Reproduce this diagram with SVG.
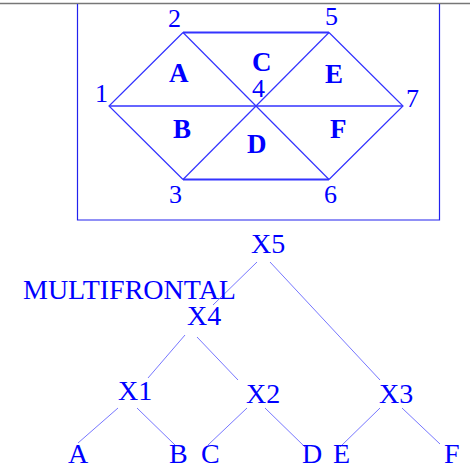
<svg xmlns="http://www.w3.org/2000/svg" width="470" height="469" viewBox="0 0 470 469">
<style>
text{font-family:"Liberation Serif","Times New Roman",serif;fill:#0000ff}
.d{font-size:26px}
.l{font-size:27px;font-weight:bold}
.t{font-size:28px}
.mesh{stroke:#3333ff;stroke-width:1.2;fill:none}
.edge{stroke:#7777ff;stroke-width:1;fill:none}
</style>
<rect width="470" height="469" fill="#fff"/>
<line x1="0" y1="3.5" x2="470" y2="3.5" stroke="#777" stroke-width="1.5"/>
<g id="box"><polyline points="77.5,4 77.5,220 439.5,220 439.5,4" fill="none" stroke="#2222ee" stroke-width="1.2"/></g>
<g id="mesh">
<line class="mesh" x1="183" y1="32.5" x2="329" y2="32.5" style="stroke-width:2"/>
<line class="mesh" x1="183" y1="179.5" x2="329" y2="179.5" style="stroke-width:2"/>
<line class="mesh" x1="109" y1="106" x2="403" y2="106" style="stroke-width:1.6"/>
<polyline class="mesh" points="183,32.5 109,106 183,179.5"/>
<polyline class="mesh" points="329,32.5 403,106 329,179.5"/>
<line class="mesh" x1="183" y1="32.5" x2="329" y2="179.5"/>
<line class="mesh" x1="329" y1="32.5" x2="183" y2="179.5"/>
</g>
<g id="vertex-labels">
<text class="d" x="168" y="27">2</text>
<text class="d" x="325" y="25">5</text>
<text class="d" x="95" y="102">1</text>
<text class="d" x="252" y="97">4</text>
<text class="d" x="406" y="107">7</text>
<text class="d" x="169" y="203">3</text>
<text class="d" x="324" y="203">6</text>
</g>
<g id="element-labels">
<text class="l" x="169" y="82">A</text>
<text class="l" x="252" y="71">C</text>
<text class="l" x="325" y="83">E</text>
<text class="l" x="173" y="138">B</text>
<text class="l" x="247" y="153">D</text>
<text class="l" x="330" y="138">F</text>
</g>
<g id="connectors">
<line class="edge" x1="257" y1="262" x2="213" y2="305"/>
<line class="edge" x1="270" y1="262" x2="380" y2="380"/>
<line class="edge" x1="185" y1="335" x2="148" y2="378"/>
<line class="edge" x1="197" y1="337" x2="238" y2="380"/>
<line class="edge" x1="118" y1="408" x2="78" y2="443"/>
<line class="edge" x1="137" y1="408" x2="175" y2="445"/>
<line class="edge" x1="247" y1="408" x2="208" y2="445"/>
<line class="edge" x1="265" y1="408" x2="305" y2="447"/>
<line class="edge" x1="380" y1="408" x2="340" y2="447"/>
<line class="edge" x1="402" y1="408" x2="440" y2="444"/>
</g>
<text class="t" x="23" y="299" id="title">MULTIFRONTAL</text>
<g id="X5"><text class="t" x="251" y="253">X5</text></g>
<g id="X4"><text class="t" x="187" y="325">X4</text></g>
<g id="X1"><text class="t" x="118" y="400">X1</text></g>
<g id="X2"><text class="t" x="246" y="403">X2</text></g>
<g id="X3"><text class="t" x="379" y="403">X3</text></g>
<g id="A"><text class="t" x="68" y="463">A</text></g>
<g id="B"><text class="t" x="169" y="463">B</text></g>
<g id="C"><text class="t" x="201" y="463">C</text></g>
<g id="D"><text class="t" x="302" y="463">D</text></g>
<g id="E"><text class="t" x="333" y="463">E</text></g>
<g id="F"><text class="t" x="444" y="463">F</text></g>
</svg>
